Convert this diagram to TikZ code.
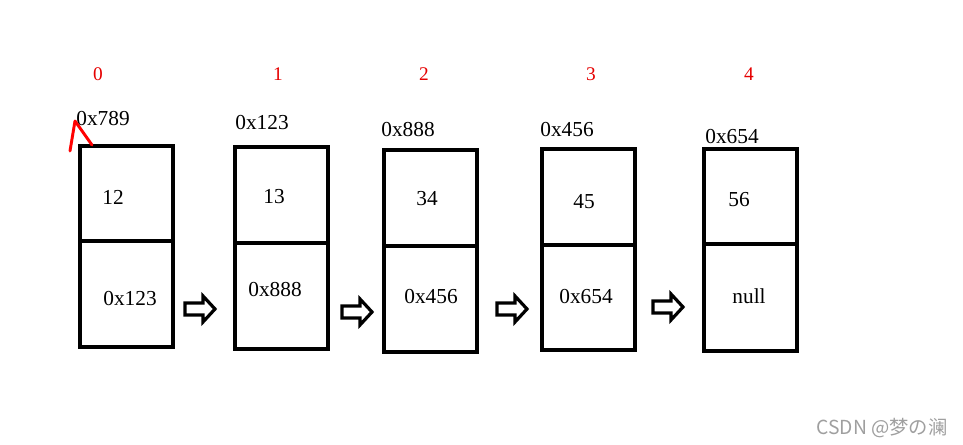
\documentclass[tikz,border=0pt]{standalone}
\usepackage{fontspec}
\setmainfont{Liberation Serif}
\newfontfamily\cjkfont{Noto Sans CJK SC}
\begin{document}
\begin{tikzpicture}[x=0.75pt,y=-0.75pt,
  cellline/.style={line width=3pt,draw=black},
  txt/.style={font=\fontsize{16}{18}\selectfont,inner sep=0pt},
  idx/.style={font=\fontsize{14.5}{16}\selectfont,text=red!90!black,inner sep=0pt},
  barrow/.style={line width=2.4pt,draw=black,fill=white,line join=miter}]
\useasboundingbox (0,0) rectangle (963,445);
% boxes
\draw[cellline] (80,146) rectangle (173,347); \draw[cellline] (80,241)--(173,241);
\draw[cellline] (235,147) rectangle (328,349); \draw[cellline] (235,243)--(328,243);
\draw[cellline] (384,150) rectangle (477,352); \draw[cellline] (384,246)--(477,246);
\draw[cellline] (542,149) rectangle (635,350); \draw[cellline] (542,245)--(635,245);
\draw[cellline] (704,149) rectangle (797,351); \draw[cellline] (704,244)--(797,244);
% indexes
\node[idx] (i0) at (98,74) {0};
\node[idx] (i1) at (278,74) {1};
\node[idx] (i2) at (424,74) {2};
\node[idx] (i3) at (591,74) {3};
\node[idx] (i4) at (749,74) {4};
% addresses
\node[txt] (a0) at (103,119) {0x789};
\node[txt] (a1) at (262,123) {0x123};
\node[txt] (a2) at (408,130) {0x888};
\node[txt] (a3) at (567,130) {0x456};
\node[txt] (a4) at (732,137) {0x654};
% values
\node[txt] (v0) at (113,197) {12};
\node[txt] (v1) at (274,197) {13};
\node[txt] (v2) at (427,199) {34};
\node[txt] (v3) at (584,202) {45};
\node[txt] (v4) at (739,200) {56};
% pointers
\node[txt] (p0) at (130,299) {0x123};
\node[txt] (p1) at (275,290) {0x888};
\node[txt] (p2) at (431,297) {0x456};
\node[txt] (p3) at (586,297) {0x654};
\node[txt] (p4) at (749,296) {null};
% block arrows
\foreach \c in {{200,309},{357,312},{512,309},{668,307}}{
  \draw[barrow,shift={(\c)}] (-15,-6)--(3,-6)--(3,-13)--(15,0)--(3,13)--(3,6)--(-15,6)--cycle;
}
% red mark
\draw[red,line width=2.2pt,line cap=round,line join=round] (92,145)--(75,121)--(70,151);
% watermark
\node[font=\cjkfont\fontsize{14.5}{16}\selectfont,text=gray!75,inner sep=0pt] (wm) at (882,428) {CSDN @梦の澜};
\end{tikzpicture}
\end{document}
